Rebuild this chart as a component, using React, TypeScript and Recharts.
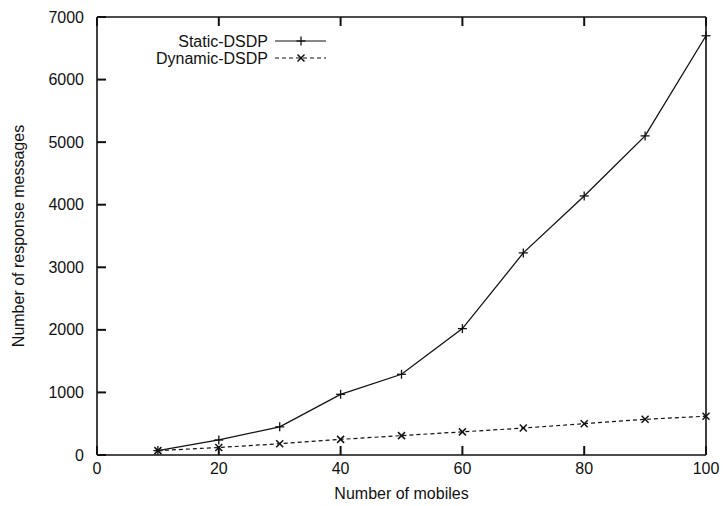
import { Line, LineChart, XAxis, YAxis, Label } from "recharts";

const mobiles = [10, 20, 30, 40, 50, 60, 70, 80, 90, 100];
const staticDsdp = [70, 240, 450, 970, 1290, 2020, 3230, 4140, 5100, 6700];
const dynamicDsdp = [70, 120, 180, 250, 310, 370, 430, 500, 570, 620];
const xTicks = [0, 20, 40, 60, 80, 100];
const yTicks = [0, 1000, 2000, 3000, 4000, 5000, 6000, 7000];

const data = mobiles.map((m, i) => ({ m, s: staticDsdp[i], d: dynamicDsdp[i] }));

const FONT = "'Liberation Sans', Arial, Helvetica, sans-serif";
const INK = "#111";
const TICK = 9;
const FS = 16;

function PlusDot({ cx, cy }: any) {
  if (cx == null || cy == null) return null;
  return (
    <g stroke={INK} strokeWidth={1.3}>
      <line x1={cx - 4.5} y1={cy} x2={cx + 4.5} y2={cy} />
      <line x1={cx} y1={cy - 4.5} x2={cx} y2={cy + 4.5} />
    </g>
  );
}

function CrossDot({ cx, cy }: any) {
  if (cx == null || cy == null) return null;
  return (
    <g stroke={INK} strokeWidth={1.5}>
      <line x1={cx - 3.5} y1={cy - 3.5} x2={cx + 3.5} y2={cy + 3.5} />
      <line x1={cx - 3.5} y1={cy + 3.5} x2={cx + 3.5} y2={cy - 3.5} />
    </g>
  );
}

// inward ticks drawn as filled rects so they survive at small sizes
const BottomTick = ({ x, y, payload }: any) => (
  <g>
    <rect x={x - 1} y={y - TICK} width={2} height={TICK} fill={INK} />
    <text x={x} y={y + 19} textAnchor="middle" fontSize={FS} fontFamily={FONT} fill={INK}>
      {payload.value}
    </text>
  </g>
);

const TopTick = ({ x, y }: any) => <rect x={x - 1} y={y} width={2} height={TICK} fill={INK} />;

const LeftTick = ({ x, y, payload }: any) => (
  <g>
    <rect x={x} y={y - 1} width={TICK} height={2} fill={INK} />
    <text x={x - 13} y={y + 5.5} textAnchor="end" fontSize={FS} fontFamily={FONT} fill={INK}>
      {payload.value}
    </text>
  </g>
);

const RightTick = ({ x, y }: any) => <rect x={x - TICK} y={y - 1} width={TICK} height={2} fill={INK} />;

const axisStroke = { stroke: INK, strokeWidth: 1.6 };

function KeyBox() {
  const rows = [
    { name: "Static-DSDP", dash: undefined, Dot: PlusDot },
    { name: "Dynamic-DSDP", dash: "4 3", Dot: CrossDot },
  ];
  return (
    <svg width={200} height={40} style={{ position: "absolute", left: 130, top: 32 }}>
      {rows.map((r, i) => (
        <g key={r.name}>
          <text x={138} y={15 + i * 17} textAnchor="end" fontSize={FS} fontFamily={FONT} fill={INK}>
            {r.name}
          </text>
          <line x1={145} y1={9 + i * 17} x2={196} y2={9 + i * 17} stroke={INK} strokeWidth={1.2} strokeDasharray={r.dash} />
          <r.Dot cx={171} cy={9 + i * 17} />
        </g>
      ))}
    </svg>
  );
}

export default function App() {
  return (
    <div style={{ position: "absolute", left: 0, top: 0, width: 723, height: 506, background: "#fff" }}>
      <LineChart width={723} height={506} data={data} margin={{ top: 16, right: 16, bottom: 11, left: 37 }}>
        <XAxis
          xAxisId="b"
          dataKey="m"
          type="number"
          domain={[0, 100]}
          ticks={xTicks}
          height={40}
          tickSize={0}
          tickMargin={0}
          tick={<BottomTick />}
          axisLine={axisStroke}
          tickLine={false}
        >
          <Label value="Number of mobiles" position="insideBottom" offset={-4} fontSize={FS} fontFamily={FONT} fill={INK} />
        </XAxis>
        <XAxis
          xAxisId="t"
          orientation="top"
          dataKey="m"
          type="number"
          domain={[0, 100]}
          ticks={xTicks}
          height={1}
          tickSize={0}
          tickMargin={0}
          tick={<TopTick />}
          axisLine={axisStroke}
          tickLine={false}
        />
        <YAxis
          yAxisId="l"
          type="number"
          domain={[0, 7000]}
          ticks={yTicks}
          width={60}
          tickSize={0}
          tickMargin={0}
          tick={<LeftTick />}
          axisLine={axisStroke}
          tickLine={false}
        >
          <Label
            value="Number of response messages"
            angle={-90}
            position="left"
            offset={19}
            fontSize={FS}
            fontFamily={FONT}
            fill={INK}
            style={{ textAnchor: "middle" }}
          />
        </YAxis>
        <YAxis
          yAxisId="r"
          orientation="right"
          type="number"
          domain={[0, 7000]}
          ticks={yTicks}
          width={1}
          tickSize={0}
          tickMargin={0}
          tick={<RightTick />}
          axisLine={axisStroke}
          tickLine={false}
        />
        <Line
          xAxisId="b"
          yAxisId="l"
          dataKey="s"
          name="Static-DSDP"
          stroke={INK}
          strokeWidth={1.3}
          dot={(p: any) => <PlusDot key={p.key ?? p.index} cx={p.cx} cy={p.cy} />}
          isAnimationActive={false}
        />
        <Line
          xAxisId="b"
          yAxisId="l"
          dataKey="d"
          name="Dynamic-DSDP"
          stroke={INK}
          strokeWidth={1.2}
          strokeDasharray="4 3"
          dot={(p: any) => <CrossDot key={p.key ?? p.index} cx={p.cx} cy={p.cy} />}
          isAnimationActive={false}
        />
      </LineChart>
      <KeyBox />
    </div>
  );
}
